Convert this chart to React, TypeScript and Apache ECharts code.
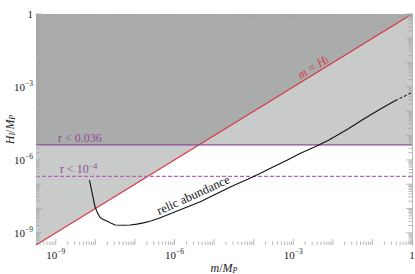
import React, { useEffect, useRef } from 'react';
import * as echarts from 'echarts';

// Axis range in log10 units (both axes)
const axisRange = [-9.5, 0];
// decades that carry a label
const labelledDecades = [-9, -6, -3, 0];

// relic abundance curve: log10(m/M_P), log10(H_I/M_P)
const relicLogM = [-8.15, -8.07, -8.01, -7.94, -7.88, -7.8, -7.71, -7.6, -7.5, -7.3, -7.12, -6.95, -6.79, -6.6, -6.41, -5.9, -5.35, -4.9, -4.51, -4.15, -3.84, -3.5, -3.16, -2.83, -2.45, -2.11, -1.65, -1.23, -0.83, -0.43];
const relicLogH = [-6.83, -7.45, -7.93, -8.2, -8.37, -8.45, -8.51, -8.61, -8.68, -8.69, -8.68, -8.64, -8.59, -8.51, -8.41, -8.08, -7.72, -7.36, -7.05, -6.8, -6.56, -6.28, -6.01, -5.74, -5.46, -5.19, -4.76, -4.33, -3.94, -3.57];
// extrapolated (dashed) part
const relicTailLogM = [-0.43, 0];
const relicTailLogH = [-3.57, -3.23];

// tensor-to-scalar bounds, log10(H_I/M_P)
const rCurrentLogH = -5.38; // r < 0.036
const rFutureLogH = -6.68; // r < 10^-4

// m = H_I line endpoints (log10 m/M_P)
const massEqualsHubbleLogM = [-9.5, 0];

const FONT = 'Liberation Serif';
const TEXT = '#222222';
const LIGHT = '#c9caca';
const DARK = '#aaabab';
const RED = '#d9353f';
const PURPLE = '#8e4a96';
const PURPLE_DASH = '#b566b8';
const AXIS = '#b9b9b9';
const TICK = '#a4a4a4';

function buildTicks(): number[][] {
  const out: number[][] = [];
  for (let d = -10; d <= 0; d++) {
    if (d >= axisRange[0] && d <= axisRange[1]) out.push([d, 1]);
    for (let k = 2; k <= 9; k++) {
      const v = d + Math.log10(k);
      if (v >= axisRange[0] && v < axisRange[1]) out.push([v, 0]);
    }
  }
  return out;
}

const labelRich = {
  base: { fontSize: 11, fontFamily: FONT, color: TEXT, lineHeight: 15 },
  sup: { fontSize: 7.5, fontFamily: FONT, color: TEXT, verticalAlign: 'top', lineHeight: 9 },
};

function fmt(v: number): string {
  const r = Math.round(v);
  if (Math.abs(v - r) > 1e-6 || !labelledDecades.includes(r)) return '';
  if (r === 0) return '{base|1}';
  return `{base|10}{sup|\u2212${-r}}`;
}

const nameRich = {
  i: { fontSize: 12, fontFamily: FONT, fontStyle: 'italic', color: TEXT },
  s: { fontSize: 8, fontFamily: FONT, fontStyle: 'italic', color: TEXT, verticalAlign: 'bottom', lineHeight: 10 },
  n: { fontSize: 12, fontFamily: FONT, color: TEXT },
};

export default function App() {
  const ref = useRef<HTMLDivElement>(null);
  useEffect(() => {
    const chart = echarts.init(ref.current!, undefined, { renderer: 'svg' });
    const ticks = buildTicks();
    const diag = massEqualsHubbleLogM.map((v) => [v, v]);
    const rNow = axisRange.map((x) => [x, rCurrentLogH]);
    const rFut = axisRange.map((x) => [x, rFutureLogH]);
    const overlap = [
      [axisRange[0], rCurrentLogH],
      [rCurrentLogH, rCurrentLogH],
      [axisRange[1], axisRange[1]],
    ];
    const relic = relicLogM.map((m, i) => [m, relicLogH[i]]);
    const tail = relicTailLogM.map((m, i) => [m, relicTailLogH[i]]);

    const baseAxis = {
      type: 'value',
      min: axisRange[0],
      max: axisRange[1],
      interval: 0.5,
      splitLine: { show: false },
      axisTick: { show: false },
      axisLine: { show: true, lineStyle: { color: AXIS, width: 1 } },
    };

    const area = (data: number[][], color: string, z: number) => ({
      type: 'line',
      data,
      symbol: 'none',
      silent: true,
      z,
      lineStyle: { width: 0, opacity: 0 },
      areaStyle: { origin: 'end', color, opacity: 1 },
    });

    const tickStyle = { stroke: TICK, lineWidth: 0.8 };

    const option: any = {
      animation: false,
      grid: { left: 36, right: 3, top: 14, bottom: 29, containLabel: false, outerBoundsMode: 'none' },
      xAxis: [
        {
          ...baseAxis,
          position: 'bottom',
          axisLabel: { formatter: fmt, rich: labelRich, margin: 2 },
          name: '{i|m}{n|/}{i|M}{s|P}',
          nameLocation: 'middle',
          nameGap: 17,
          nameMoveOverlap: false,
          nameTextStyle: { rich: nameRich },
        },
        { ...baseAxis, position: 'top', axisLabel: { show: false } },
      ],
      yAxis: [
        {
          ...baseAxis,
          position: 'left',
          axisLabel: { formatter: fmt, rich: labelRich, margin: 3 },
          name: '{i|H}{s|I}{n|/}{i|M}{s|P}',
          nameLocation: 'middle',
          nameGap: 20,
          nameMoveOverlap: false,
          nameTextStyle: { rich: nameRich },
        },
        { ...baseAxis, position: 'right', axisLabel: { show: false } },
      ],
      graphic: [
        {
          type: 'text',
          x: 58,
          y: 144,
          z: 100,
          style: { text: 'r < 0.036', fill: PURPLE, fontSize: 12, fontFamily: FONT, verticalAlign: 'bottom' },
        },
        {
          type: 'text',
          x: 60,
          y: 176,
          z: 100,
          style: {
            text: '{a|r < 10}{b|\u22124}',
            verticalAlign: 'bottom',
            rich: {
              a: { fontSize: 12, fontFamily: FONT, fill: PURPLE, lineHeight: 14 },
              b: { fontSize: 8, fontFamily: FONT, fill: PURPLE, verticalAlign: 'top', lineHeight: 8 },
            },
          },
        },
        {
          type: 'text',
          x: 313,
          y: 67,
          z: 100,
          rotation: Math.atan(231 / 376),
          style: {
            text: '{i|m} {n|=} {i|H}{s|I}',
            align: 'center',
            verticalAlign: 'middle',
            rich: {
              i: { fontSize: 12, fontFamily: FONT, fontStyle: 'italic', fill: RED },
              n: { fontSize: 12, fontFamily: FONT, fill: RED },
              s: { fontSize: 8, fontFamily: FONT, fontStyle: 'italic', fill: RED, verticalAlign: 'bottom', lineHeight: 10 },
            },
          },
        },
        {
          type: 'text',
          x: 196,
          y: 201,
          z: 100,
          rotation: 0.426,
          style: {
            text: 'relic abundance',
            fill: '#111',
            fontSize: 12.5,
            fontFamily: FONT,
            align: 'center',
            verticalAlign: 'bottom',
          },
        },
      ],
      series: [
        area(rNow, LIGHT, 1),
        area(diag, LIGHT, 1),
        area(overlap, DARK, 2),
        {
          type: 'line',
          data: diag,
          symbol: 'none',
          silent: true,
          z: 5,
          lineStyle: { color: RED, width: 1.1 },
        },
        {
          type: 'line',
          data: rNow,
          symbol: 'none',
          silent: true,
          z: 5,
          lineStyle: { color: PURPLE, width: 1.2 },
        },
        {
          type: 'line',
          data: rFut,
          symbol: 'none',
          silent: true,
          z: 5,
          lineStyle: { color: PURPLE_DASH, width: 1.2, type: [4, 2] },
        },
        {
          type: 'line',
          data: relic,
          symbol: 'none',
          silent: true,
          z: 6,
          lineStyle: { color: '#111', width: 1.1 },
        },
        {
          type: 'line',
          data: tail,
          symbol: 'none',
          silent: true,
          z: 6,
          lineStyle: { color: '#111', width: 1.1, type: [3, 2] },
        },
        {
          type: 'custom',
          silent: true,
          z: 10,
          data: ticks,
          renderItem: (_p: any, api: any) => {
            const v = api.value(0);
            const L = api.value(1) === 1 ? 6 : 3.5;
            const b = api.coord([v, axisRange[0]]);
            const t = api.coord([v, axisRange[1]]);
            return {
              type: 'group',
              children: [
                { type: 'line', shape: { x1: b[0], y1: b[1], x2: b[0], y2: b[1] - L }, style: tickStyle },
                { type: 'line', shape: { x1: t[0], y1: t[1], x2: t[0], y2: t[1] + L }, style: tickStyle },
              ],
            };
          },
        },
        {
          type: 'custom',
          silent: true,
          z: 10,
          data: ticks,
          renderItem: (_p: any, api: any) => {
            const v = api.value(0);
            const L = api.value(1) === 1 ? 6 : 3.5;
            const l = api.coord([axisRange[0], v]);
            const r = api.coord([axisRange[1], v]);
            return {
              type: 'group',
              children: [
                { type: 'line', shape: { x1: l[0], y1: l[1], x2: l[0] + L, y2: l[1] }, style: tickStyle },
                { type: 'line', shape: { x1: r[0], y1: r[1], x2: r[0] - L, y2: r[1] }, style: tickStyle },
              ],
            };
          },
        },
      ],
    };
    chart.setOption(option);
    return () => chart.dispose();
  }, []);
  return <div ref={ref} style={{ position: 'absolute', left: 0, top: 0, width: 415, height: 274 }} />;
}
